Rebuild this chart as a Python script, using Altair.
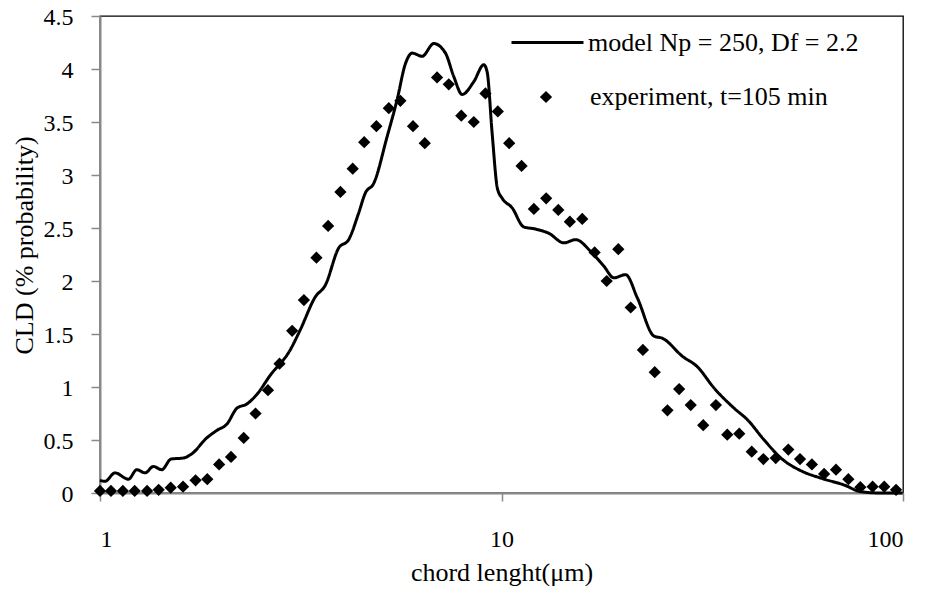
import pandas as pd
import altair as alt

FONT = "Liberation Serif"

# model curve (chord length in um, CLD %)
model_x = [1.0, 1.029, 1.09, 1.177, 1.235, 1.295, 1.358, 1.425, 1.503, 1.613,
           1.693, 1.845, 1.954, 2.07, 2.193, 2.322, 2.459, 2.654, 2.977, 3.154,
           3.438, 3.64, 3.929, 4.162, 4.407, 4.58, 4.804, 5.188, 5.495, 5.764,
           5.99, 6.343, 6.781, 7.251, 7.603, 7.98, 8.529, 9.035, 9.212, 9.479,
           9.772, 10.04, 10.63, 11.36, 12.16, 13.12, 14.3, 15.3, 16.67, 17.99,
           19.05, 20.38, 21.8, 23.98, 25.16, 28.22, 30.76, 33.84, 37.96, 41.0,
           45.1, 49.64, 55.67, 62.45, 71.4, 78.59, 88.13, 99.8]
model_y = [0.12, 0.11, 0.19, 0.13, 0.22, 0.19, 0.25, 0.22, 0.32, 0.33,
           0.37, 0.52, 0.59, 0.65, 0.80, 0.84, 0.93, 1.11, 1.35, 1.54,
           1.85, 1.96, 2.31, 2.39, 2.64, 2.83, 2.92, 3.36, 3.71, 4.05,
           4.15, 4.12, 4.24, 4.15, 3.93, 3.76, 3.88, 4.04, 3.97, 3.39,
           2.87, 2.78, 2.69, 2.51, 2.49, 2.45, 2.36, 2.39, 2.28, 2.14,
           2.03, 2.06, 1.84, 1.48, 1.46, 1.29, 1.19, 0.99, 0.80, 0.69,
           0.50, 0.33, 0.21, 0.14, 0.075, 0.012, 0.0, 0.0]

# experiment, t = 105 min
exp_x = [1.0, 1.065, 1.14, 1.22, 1.31, 1.40, 1.50, 1.61, 1.73, 1.85,
         1.98, 2.12, 2.28, 2.44, 2.62, 2.80, 3.01, 3.22, 3.46, 3.70,
         3.97, 4.26, 4.55, 4.88, 5.24, 5.60, 6.02, 6.44, 6.91, 7.39,
         7.94, 8.53, 9.12, 9.79, 10.45, 11.22, 12.04, 12.92, 13.85, 14.8,
         15.89, 17.06, 18.28, 19.54, 20.98, 22.5, 24.08, 25.9, 27.7, 29.6,
         31.8, 34.2, 36.5, 39.1, 42.0, 44.9, 48.2, 51.8, 55.4, 59.3,
         63.6, 68.1, 73.1, 78.3, 84.0, 89.8, 96.1]
exp_y = [0.02, 0.02, 0.02, 0.02, 0.02, 0.03, 0.05, 0.06, 0.12, 0.13,
         0.27, 0.34, 0.52, 0.75, 0.97, 1.22, 1.53, 1.82, 2.22, 2.52,
         2.84, 3.06, 3.31, 3.46, 3.63, 3.70, 3.46, 3.30, 3.92, 3.855,
         3.56, 3.50, 3.77, 3.60, 3.30, 3.085, 2.68, 2.78, 2.67, 2.56,
         2.585, 2.27, 2.0, 2.30, 1.75, 1.35, 1.14, 0.78, 0.98, 0.83,
         0.64, 0.83, 0.55, 0.56, 0.39, 0.32, 0.33, 0.41, 0.32, 0.27,
         0.18, 0.22, 0.13, 0.055, 0.06, 0.06, 0.03]

model_label = "model Np = 250, Df = 2.2"
exp_label = "experiment, t=105 min"

model = pd.DataFrame({"x": model_x, "y": model_y, "series": model_label})
exp = pd.DataFrame({"x": exp_x, "y": exp_y, "series": exp_label})

x_enc = alt.X("x:Q", scale=alt.Scale(type="log", domain=[1, 100], nice=False),
              axis=alt.Axis(values=[1, 10, 100], format="d", title="chord lenght(μm)",
                            tickSize=8, labelPadding=45, labelBaseline="alphabetic",
                            titleY=87, titleBaseline="alphabetic"))
y_enc = alt.Y("y:Q", scale=alt.Scale(domain=[0, 4.5], nice=False),
              axis=alt.Axis(values=[0, 0.5, 1, 1.5, 2, 2.5, 3, 3.5, 4, 4.5], format="~g",
                            title="CLD (% probability)", tickSize=9, labelPadding=18,
                            labelOffset=1.5,
                            titleX=-76, titleY=229, titleAngle=-90,
                            titleAlign="center", titleBaseline="middle"))

line = alt.Chart(model).mark_line(color="black", strokeWidth=3, interpolate="monotone").encode(
    x=x_enc, y=y_enc,
    strokeDash=alt.StrokeDash("series:N", scale=alt.Scale(range=[[1, 0]]),
                              legend=alt.Legend(title=None, orient="none", legendX=410, legendY=-11,
                                                symbolType="stroke", symbolSize=5184,
                                                symbolStrokeColor="black", symbolStrokeWidth=3,
                                                labelOffset=3)),
)

points = alt.Chart(exp).mark_point(filled=True, color="black", size=150, opacity=1).encode(
    x="x:Q", y="y:Q",
    shape=alt.Shape("series:N", scale=alt.Scale(range=["diamond"]),
                    legend=alt.Legend(title=None, orient="none", legendX=433, legendY=68,
                                      symbolSize=150, symbolFillColor="black",
                                      symbolStrokeWidth=0, symbolOpacity=1, labelOffset=31)),
)

chart = (line + points).properties(
    width=803, height=477,
    autosize=alt.AutoSizeParams(type="none"),
    padding={"left": 92, "top": 8, "right": 20, "bottom": 93},
).configure_view(
    stroke="black", strokeWidth=1.3
).configure_axis(
    labelFont=FONT, titleFont=FONT, labelFontSize=24, titleFontSize=26,
    labelColor="black", titleColor="black", titleFontWeight="normal",
    domainColor="#888888", domainWidth=2, tickColor="#888888", tickWidth=1.5,
    grid=False,
).configure_legend(
    labelFont=FONT, labelFontSize=26, labelColor="black", labelLimit=0, padding=0,
)

chart.save("out.html", embed_options={"renderer": "svg", "actions": False})
